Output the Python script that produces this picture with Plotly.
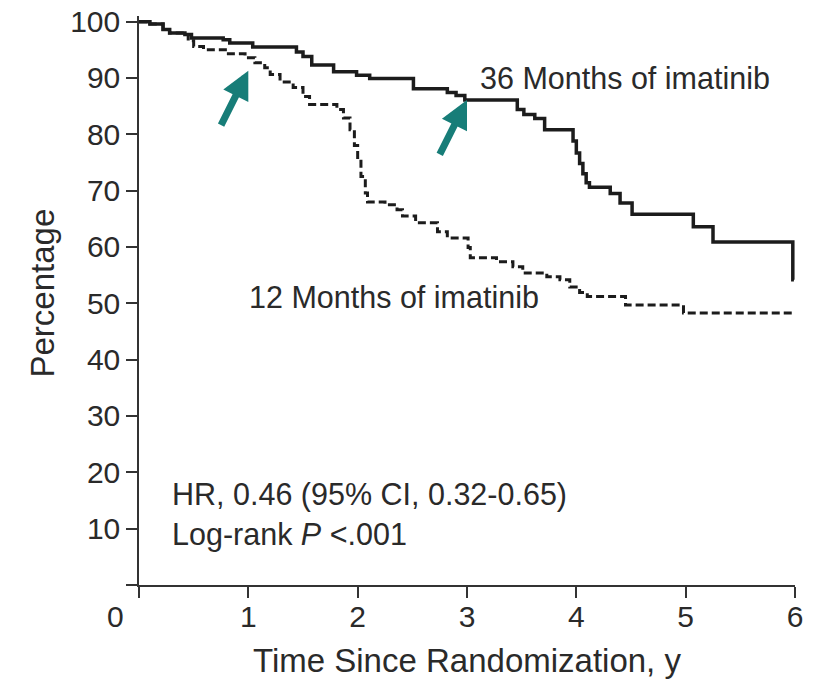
import plotly.graph_objects as go

# ---- data ----
t_36 = [0, 0.10, 0.22, 0.28, 0.42, 0.48, 0.77, 0.83, 1.04, 1.44, 1.50, 1.58,
        1.78, 1.99, 2.11, 2.51, 2.82, 2.90, 2.98, 3.46, 3.52, 3.62, 3.71, 3.97,
        4.00, 4.03, 4.06, 4.09, 4.12, 4.31, 4.40, 4.51, 5.07, 5.25, 5.98, 5.99]
s_36 = [100, 99.6, 98.6, 98.0, 97.7, 97.1, 96.8, 96.2, 95.5, 94.6, 93.8, 92.3,
        91.1, 90.5, 89.9, 88.1, 87.4, 86.9, 86.1, 84.4, 83.5, 82.8, 80.8, 78.8,
        76.7, 74.8, 73.0, 71.4, 70.6, 69.5, 67.8, 65.8, 63.6, 60.9, 54.2, 54.2]

t_12 = [0, 0.10, 0.22, 0.28, 0.42, 0.45, 0.50, 0.59, 0.79, 0.97, 1.06, 1.15,
        1.20, 1.29, 1.41, 1.50, 1.56, 1.81, 1.87, 1.93, 1.97, 2.00, 2.03, 2.07,
        2.09, 2.25, 2.36, 2.41, 2.53, 2.73, 2.82, 3.01, 3.03, 3.27, 3.42, 3.51,
        3.73, 3.85, 3.94, 4.03, 4.10, 4.45, 4.98, 6.00]
s_12 = [100, 99.6, 98.6, 98.0, 97.7, 96.6, 95.6, 95.0, 94.3, 93.6, 92.7, 91.8,
        90.6, 89.3, 88.3, 86.7, 85.3, 84.4, 82.9, 80.8, 78.0, 75.5, 72.5, 69.6,
        68.0, 67.5, 66.6, 65.5, 64.3, 62.7, 61.6, 59.9, 58.1, 57.4, 56.5, 55.4,
        54.7, 54.2, 52.9, 51.9, 51.2, 49.7, 48.3, 48.3]

x_ticks = [0, 1, 2, 3, 4, 5, 6]
x_ticktext = ["", "1", "2", "3", "4", "5", "6"]
y_ticks = [0, 10, 20, 30, 40, 50, 60, 70, 80, 90, 100]
y_ticktext = ["", "10", "20", "30", "40", "50", "60", "70", "80", "90", "100"]

x_title = "Time Since Randomization, y"
y_title = "Percentage"
label_36 = "36 Months of imatinib"
label_12 = "12 Months of imatinib"
stat_hr = "HR, 0.46 (95% CI, 0.32-0.65)"
stat_p = "Log-rank <i>P</i> &lt;.001"
arrow_points = [(1.0, 91.3), (3.0, 86.1)]

FONT = "Liberation Sans, Arial, Helvetica, sans-serif"
TXT = "#2a2a2a"
LINE = "#1c1c1c"
TEAL = "#177d78"
ANN = 30.5
TICK = 30
TITLE = 33

fig = go.Figure()
fig.add_trace(go.Scatter(x=t_12, y=s_12, mode="lines", line_shape="hv",
                         line=dict(color=LINE, width=3, dash="8px,4px"),
                         showlegend=False, hoverinfo="skip"))
fig.add_trace(go.Scatter(x=t_36, y=s_36, mode="lines", line_shape="hv",
                         line=dict(color=LINE, width=3.5),
                         showlegend=False, hoverinfo="skip"))

annotations = [
    dict(x=3.10, y=90.0, text=label_36, showarrow=False, xanchor="left",
         yanchor="middle", font=dict(size=ANN, color=TXT, family=FONT)),
    dict(x=0.99, y=51.1, text=label_12, showarrow=False, xanchor="left",
         yanchor="middle", font=dict(size=ANN, color=TXT, family=FONT)),
    dict(x=0.284, y=16.0, text=stat_hr, showarrow=False, xanchor="left",
         yanchor="middle", font=dict(size=ANN, color=TXT, family=FONT)),
    dict(x=0.284, y=9.0, text=stat_p, showarrow=False, xanchor="left",
         yanchor="middle", font=dict(size=ANN, color=TXT, family=FONT)),
    dict(x=0, y=0, xref="x", yref="y", text="0", showarrow=False,
         xanchor="center", yanchor="middle", xshift=-24, yshift=-31,
         font=dict(size=TICK, color=TXT, family=FONT)),
    dict(x=0.5, y=0, xref="paper", yref="paper", text=x_title,
         showarrow=False, xanchor="center", yanchor="middle", yshift=-75,
         font=dict(size=TITLE, color=TXT, family=FONT)),
    dict(x=0, y=0.5, xref="paper", yref="paper", text=y_title, textangle=-90,
         showarrow=False, xanchor="center", yanchor="middle", xshift=-97,
         yshift=7, font=dict(size=TITLE, color=TXT, family=FONT)),
]
for (ax_x, ax_y) in arrow_points:
    annotations.append(dict(x=ax_x, y=ax_y, text="", showarrow=True,
                            arrowhead=2, arrowsize=0.8, arrowwidth=7,
                            arrowcolor=TEAL, ax=-28, ay=56, standoff=0))

fig.update_layout(
    width=820, height=680,
    margin=dict(l=139, r=25, t=16, b=95),
    paper_bgcolor="white", plot_bgcolor="white",
    font=dict(family=FONT, color=TXT),
    annotations=annotations,
    xaxis=dict(range=[0, 6], tickvals=x_ticks, ticktext=x_ticktext,
               ticks="outside", ticklen=11, tickwidth=1.5, tickcolor="#333",
               showline=True, linecolor="#333", linewidth=1.5,
               showgrid=False, zeroline=False, automargin=False,
               ticklabelstandoff=-7,
               tickfont=dict(size=TICK, color=TXT, family=FONT)),
    yaxis=dict(range=[0, 101], tickvals=y_ticks, ticktext=y_ticktext,
               ticks="outside", ticklen=11, tickwidth=1.5, tickcolor="#333",
               showline=True, linecolor="#333", linewidth=1.5,
               showgrid=False, zeroline=False, automargin=False,
               tickfont=dict(size=TICK, color=TXT, family=FONT)),
)

fig.write_html("out.html")
